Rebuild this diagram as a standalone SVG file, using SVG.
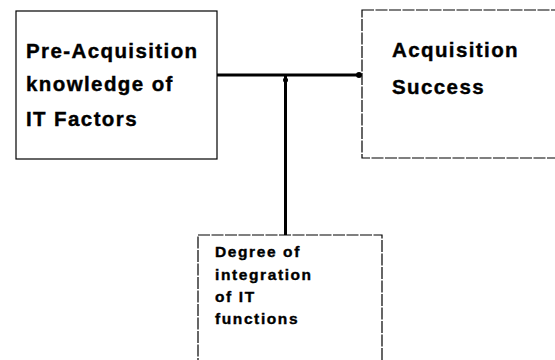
<svg xmlns="http://www.w3.org/2000/svg" width="555" height="360" viewBox="0 0 555 360">
<style>
.box{fill:#fff;stroke:#000;stroke-width:1.2}
.dash{stroke-dasharray:12 1.5}
.t{font-family:"Liberation Sans",Arial,sans-serif;font-weight:bold;fill:#000;stroke:#000;stroke-width:0.4}
.big{font-size:20.5px;letter-spacing:1.4px}
.small{font-size:15.5px;letter-spacing:1.6px}
.ln{stroke:#000;stroke-width:3;fill:none}
</style>
<rect width="555" height="360" fill="#fff"/>
<g id="connectors">
<line class="ln" x1="217" y1="75" x2="358" y2="75"/>
<line class="ln" x1="285.5" y1="75" x2="285.5" y2="235"/>
<circle cx="359" cy="75" r="3"/>
<circle cx="285.5" cy="80" r="2.5"/>
</g>
<g id="node-preacq">
<rect class="box" x="16" y="11" width="201" height="148"/>
<text class="t big" x="26" y="58">Pre-Acquisition</text>
<text class="t big" x="26" y="91">knowledge of</text>
<text class="t big" x="26" y="126">IT Factors</text>
</g>
<g id="node-success">
<rect class="box dash" x="362" y="10" width="200" height="148"/>
<text class="t big" x="392" y="57">Acquisition</text>
<text class="t big" x="392" y="94">Success</text>
</g>
<g id="node-degree">
<rect class="box dash" x="198" y="235" width="184" height="140"/>
<text class="t small" x="215" y="257">Degree of</text>
<text class="t small" x="215" y="280">integration</text>
<text class="t small" x="215" y="302">of IT</text>
<text class="t small" x="215" y="324">functions</text>
</g>
</svg>
